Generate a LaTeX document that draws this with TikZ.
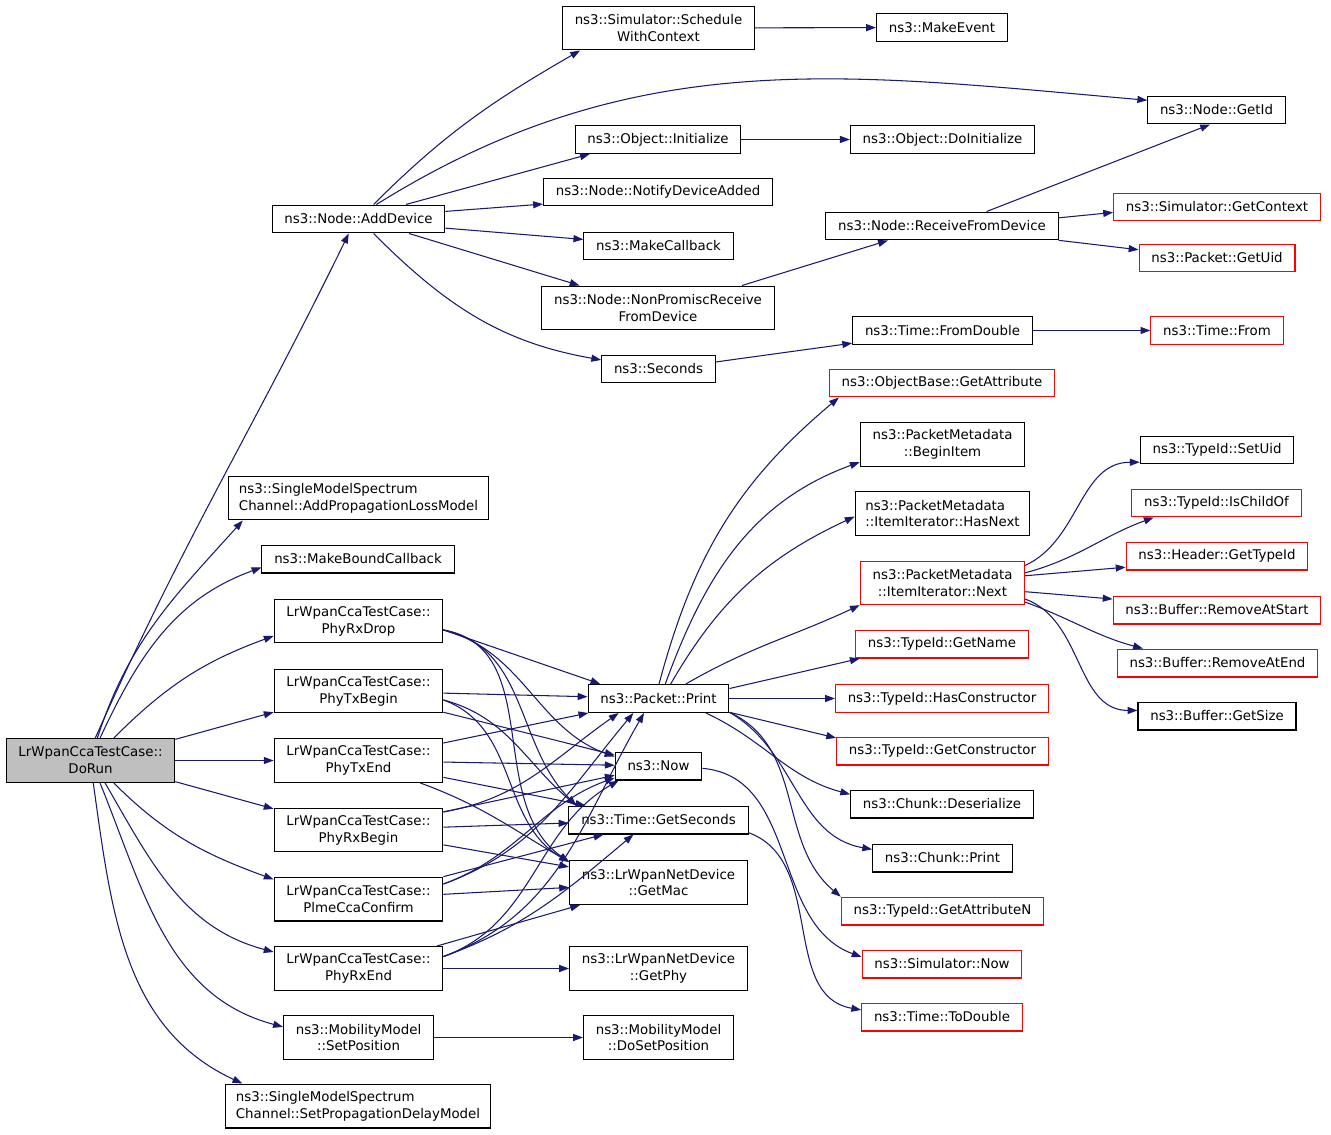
\documentclass[tikz,border=0pt]{standalone}
\usepackage{fontspec}
\setmainfont{DejaVu Sans}
\usetikzlibrary{arrows.meta}
\definecolor{navy}{HTML}{191970}
\newcommand\fnfont{\fontsize{7.6}{9.6}\selectfont}
\begin{document}
\begin{tikzpicture}
    [x=0.02cm,y=0.02cm,
     fn/.style={draw=black,fill=white,font=\fnfont,align=center,inner xsep=7pt,inner ysep=2.5pt,minimum height=15.9pt,line width=0.6pt},
     ext/.style={fn,draw=red},
     root/.style={fn,fill=gray!50},
     two/.style={minimum height=25pt},
     flush/.style={align=left,inner xsep=5.8pt},
     calls/.style={draw=navy,line width=0.6pt,-{Triangle[length=5.6pt,width=4pt]}}]
    \fill [white] (0,0) rectangle (1331,-1135);
    \useasboundingbox (0,0) rectangle (1331,-1135);
    % first column
    \node (dorun) at (90.5,-760.5) [root,two] {LrWpanCcaTestCase::\\DoRun};
    \node (adddevice) at (358.5,-219) [fn] {ns3::Node::AddDevice};
    \node (lossmodel) at (358.5,-498) [fn,two,flush] {ns3::SingleModelSpectrum\\Channel::AddPropagationLossModel};
    \node (boundcb) at (358,-559) [fn] {ns3::MakeBoundCallback};
    \node (phyrxdrop) at (358.5,-621) [fn,two] {LrWpanCcaTestCase::\\PhyRxDrop};
    \node (phytxbegin) at (358.5,-691) [fn,two] {LrWpanCcaTestCase::\\PhyTxBegin};
    \node (phytxend) at (358.5,-760.5) [fn,two] {LrWpanCcaTestCase::\\PhyTxEnd};
    \node (phyrxbegin) at (358.5,-830) [fn,two] {LrWpanCcaTestCase::\\PhyRxBegin};
    \node (plmecca) at (358.5,-899) [fn,two] {LrWpanCcaTestCase::\\PlmeCcaConfirm};
    \node (phyrxend) at (358.5,-968.5) [fn,two] {LrWpanCcaTestCase::\\PhyRxEnd};
    \node (setpos) at (358.5,-1037.5) [fn,two] {ns3::MobilityModel\\::SetPosition};
    \node (delaymodel) at (358,-1106) [fn,two,flush] {ns3::SingleModelSpectrum\\Channel::SetPropagationDelayModel};
    % second column
    \node (schedule) at (658.5,-28) [fn,two] {ns3::Simulator::Schedule\\WithContext};
    \node (initialize) at (658,-139.5) [fn] {ns3::Object::Initialize};
    \node (notify) at (658,-192) [fn] {ns3::Node::NotifyDeviceAdded};
    \node (makecb) at (658.5,-246) [fn] {ns3::MakeCallback};
    \node (nonpromisc) at (658,-308) [fn,two] {ns3::Node::NonPromiscReceive\\FromDevice};
    \node (seconds) at (658.5,-369) [fn] {ns3::Seconds};
    \node (print) at (658.5,-698.5) [fn] {ns3::Packet::Print};
    \node (now) at (658.5,-766) [fn] {ns3::Now};
    \node (getseconds) at (658.5,-820) [fn] {ns3::Time::GetSeconds};
    \node (getmac) at (658.5,-882.5) [fn,two] {ns3::LrWpanNetDevice\\::GetMac};
    \node (getphy) at (658.5,-968.5) [fn,two] {ns3::LrWpanNetDevice\\::GetPhy};
    \node (dosetpos) at (658.5,-1037.5) [fn,two] {ns3::MobilityModel\\::DoSetPosition};
    % third column
    \node (makeevent) at (942,-27.5) [fn] {ns3::MakeEvent};
    \node (doinit) at (942.5,-139.5) [fn] {ns3::Object::DoInitialize};
    \node (recvfrom) at (942,-226) [fn] {ns3::Node::ReceiveFromDevice};
    \node (fromdouble) at (942.5,-330.5) [fn] {ns3::Time::FromDouble};
    \node (getattr) at (942,-383) [ext] {ns3::ObjectBase::GetAttribute};
    \node (beginitem) at (942.5,-444.5) [fn,two] {ns3::PacketMetadata\\::BeginItem};
    \node (hasnext) at (942.5,-513.5) [fn,two,flush] {ns3::PacketMetadata\\::ItemIterator::HasNext};
    \node (next) at (942.5,-583) [ext,two] {ns3::PacketMetadata\\::ItemIterator::Next};
    \node (getname) at (942,-644) [ext] {ns3::TypeId::GetName};
    \node (hasctor) at (942,-698.5) [ext] {ns3::TypeId::HasConstructor};
    \node (getctor) at (942.5,-751) [ext] {ns3::TypeId::GetConstructor};
    \node (deserialize) at (942,-804) [fn] {ns3::Chunk::Deserialize};
    \node (chunkprint) at (942.5,-858) [fn] {ns3::Chunk::Print};
    \node (getattrn) at (942.5,-911) [ext] {ns3::TypeId::GetAttributeN};
    \node (simnow) at (942,-964) [ext] {ns3::Simulator::Now};
    \node (todouble) at (942,-1017) [ext] {ns3::Time::ToDouble};
    % fourth column
    \node (getid) at (1216.5,-110) [fn] {ns3::Node::GetId};
    \node (getcontext) at (1217,-207) [ext] {ns3::Simulator::GetContext};
    \node (getuid) at (1217,-258) [ext] {ns3::Packet::GetUid};
    \node (timefrom) at (1217,-330.5) [ext] {ns3::Time::From};
    \node (setuid) at (1217,-450) [fn] {ns3::TypeId::SetUid};
    \node (ischildof) at (1216.5,-503) [ext] {ns3::TypeId::IsChildOf};
    \node (gettypeid) at (1217,-556) [ext] {ns3::Header::GetTypeId};
    \node (rmstart) at (1217,-610) [ext] {ns3::Buffer::RemoveAtStart};
    \node (rmend) at (1217.5,-663) [ext] {ns3::Buffer::RemoveAtEnd};
    \node (getsize) at (1217,-716) [fn] {ns3::Buffer::GetSize};
    % calls from DoRun
    \draw [calls] (dorun.78) to [out=66,in=-116] (adddevice.-124);
    \draw [calls] (dorun.73) to [out=72,in=-132] (lossmodel.-169);
    \draw [calls] (dorun.67) to [out=65,in=-160] (boundcb.-175);
    \draw [calls] (dorun.44) to [out=45,in=-160] (phyrxdrop.-170);
    \draw [calls] (dorun.14) -- (phytxbegin.-166);
    \draw [calls] (dorun) -- (phytxend);
    \draw [calls] (dorun.-14) -- (phyrxbegin.166);
    \draw [calls] (dorun.-44) to [out=-45,in=160] (plmecca.167);
    \draw [calls] (dorun.-57) to [out=-60,in=165] (phyrxend.169);
    \draw [calls] (dorun.-67) to [out=-68,in=165] (setpos.172);
    \draw [calls] (dorun.-83) to [out=-82,in=155] (delaymodel.169);
    % calls from AddDevice
    \draw [calls] (adddevice.44) to [out=45,in=-150] (schedule.-164);
    \draw [calls] (adddevice.39) to [out=32,in=175] (getid.172);
    \draw [calls] (adddevice.17) -- (initialize.-168);
    \draw [calls] (adddevice.5) -- (notify.-174);
    \draw [calls] (adddevice.-6) -- (makecb.175);
    \draw [calls] (adddevice.-16) -- (nonpromisc.164);
    \draw [calls] (adddevice.-44) to [out=-45,in=170] (seconds.171);
    \draw [calls] (schedule) -- (makeevent);
    \draw [calls] (initialize) -- (doinit);
    \draw [calls] (nonpromisc.15) -- (recvfrom.-165);
    \draw [calls] (recvfrom.18) -- (getid.-114);
    \draw [calls] (recvfrom.4) -- (getcontext.-177);
    \draw [calls] (recvfrom.-7) -- (getuid.174);
    \draw [calls] (seconds.7) -- (fromdouble.-172);
    \draw [calls] (fromdouble) -- (timefrom);
    % calls from the test case callbacks
    \draw [calls] (phyrxdrop.-6) -- (print.166);
    \draw [calls] (phyrxdrop.-6) to [out=-15,in=160] (now.168);
    \draw [calls] (phyrxdrop.-6) to [out=-12,in=135] (getseconds.170);
    \draw [calls] (phyrxdrop.-6) to [out=-10,in=145] (getmac.167);
    \draw [calls] (phytxbegin) -- (print);
    \draw [calls] (phytxbegin) -- (now);
    \draw [calls] (phytxbegin.-6) to [out=-15,in=140] (getseconds.170);
    \draw [calls] (phytxbegin.-6) to [out=-20,in=150] (getmac.167);
    \draw [calls] (phytxend) -- (print);
    \draw [calls] (phytxend) -- (now);
    \draw [calls] (phytxend) -- (getseconds);
    \draw [calls] (phytxend.-20) to [out=-20,in=150] (getmac.167);
    \draw [calls] (phyrxbegin.12) to [out=10,in=-145] (print.-160);
    \draw [calls] (phyrxbegin) -- (now);
    \draw [calls] (phyrxbegin) -- (getseconds);
    \draw [calls] (phyrxbegin) -- (getmac);
    \draw [calls] (plmecca.10) to [out=20,in=-130] (print.-150);
    \draw [calls] (plmecca.10) to [out=20,in=-160] (now.-165);
    \draw [calls] (plmecca) -- (getseconds);
    \draw [calls] (plmecca) -- (getmac);
    \draw [calls] (phyrxend.8) to [out=20,in=-120] (print.-135);
    \draw [calls] (phyrxend.8) to [out=20,in=-150] (now.-160);
    \draw [calls] (phyrxend.8) to [out=20,in=-140] (getseconds.-150);
    \draw [calls] (phyrxend) -- (getmac);
    \draw [calls] (phyrxend) -- (getphy);
    \draw [calls] (setpos) -- (dosetpos);
    % calls from Packet::Print
    \draw [calls] (print.88) to [out=75,in=-140] (getattr.-172);
    \draw [calls] (print.65) to [out=70,in=-160] (beginitem.-168);
    \draw [calls] (print.50) to [out=60,in=-155] (hasnext.-178);
    \draw [calls] (print.28) to [out=30,in=-155] (next.-165);
    \draw [calls] (print.8) -- (getname.-170);
    \draw [calls] (print) -- (hasctor);
    \draw [calls] (print.-11) -- (getctor.173);
    \draw [calls] (print.-17) to [out=-25,in=165] (deserialize.174);
    \draw [calls] (print.-11) to [out=-30,in=170] (chunkprint.173);
    \draw [calls] (print.-11) to [out=-25,in=140] (getattrn.172);
    \draw [calls] (now.-3) to [out=-5,in=160] (simnow.175);
    \draw [calls] (getseconds.-8) to [out=-20,in=170] (todouble.175);
    % calls from ItemIterator::Next
    \draw [calls] (next.12) to [out=25,in=180] (setuid.-171);
    \draw [calls] (next.7) to [out=15,in=-160] (ischildof.-167);
    \draw [calls] (next.5) -- (gettypeid.-173);
    \draw [calls] (next.-6) -- (rmstart.174);
    \draw [calls] (next.-13) to [out=-20,in=165] (rmend.169);
    \draw [calls] (next.-11) to [out=-20,in=180] (getsize.176);
  \end{tikzpicture}
\end{document}
